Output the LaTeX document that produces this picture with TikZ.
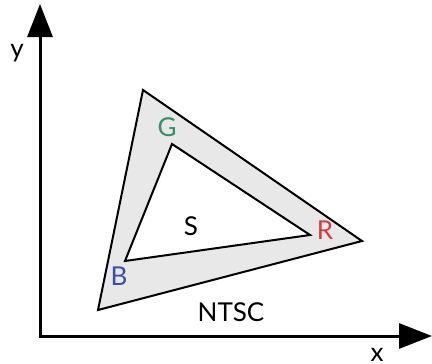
\documentclass[tikz,border=0pt]{standalone}
\usepackage{fontspec}
\setmainfont{Lato}
\usetikzlibrary{arrows.meta}
\definecolor{gamutgray}{RGB}{232,232,232}
\definecolor{gamutred}{RGB}{214,58,62}
\definecolor{gamutgreen}{RGB}{52,145,98}
\definecolor{gamutblue}{RGB}{55,80,165}
\tikzset{
    lbl/.style={font=\fontsize{26}{30}\selectfont, inner sep=0pt},
    axis/.style={line width=3pt, -{Triangle[length=33pt,width=25pt]}}
}
\begin{document}
\begin{tikzpicture}[x=1pt,y=-1pt]
    \useasboundingbox (0,0) rectangle (432,364);
    \coordinate (O) at (40,336);
    \coordinate (Y) at (40,4);
    \coordinate (X) at (432,336);

    % outer gamut
    \coordinate (Go) at (143,90);
    \coordinate (Ro) at (362,241);
    \coordinate (Bo) at (98,310);
    % inner gamut
    \coordinate (Gi) at (172,144);
    \coordinate (Ri) at (310,235);
    \coordinate (Bi) at (125,261);

    \draw[line width=2pt, fill=gamutgray, line join=miter] (Go) -- (Ro) -- (Bo) -- cycle;
    \draw[line width=2pt, fill=white, line join=miter] (Gi) -- (Ri) -- (Bi) -- cycle;

    \draw[axis] (39,336) -- (X);
    \draw[axis] (O) -- (Y);

    \node[lbl] (ylab) at (17,53) {y};
    \node[lbl] (xlab) at (377,355) {x};
    \node[lbl, text=gamutgreen] (G) at (167,127) {G};
    \node[lbl, text=gamutred] (R) at (325,230) {R};
    \node[lbl, text=gamutblue] (B) at (119,276) {B};
    \node[lbl] (S) at (191,226) {S};
    \node[lbl] (ntsc) at (231,312) {NTSC};
\end{tikzpicture}
\end{document}
